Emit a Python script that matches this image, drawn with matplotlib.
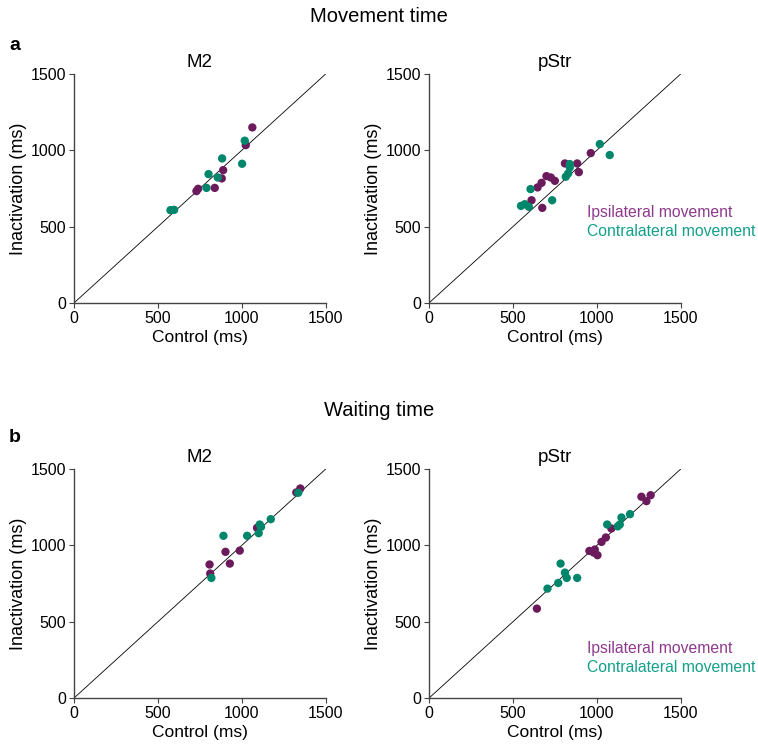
import numpy as np
import matplotlib.pyplot as plt

plt.rcParams['font.family'] = ['Liberation Sans', 'DejaVu Sans']

# Movement time, M2
mt_m2_ipsi_x = [1063, 1024, 889, 881, 839, 740, 730]
mt_m2_ipsi_y = [1150, 1034, 870, 816, 754, 748, 733]
mt_m2_contra_x = [1018, 883, 1002, 802, 857, 790, 575, 597]
mt_m2_contra_y = [1063, 947, 912, 844, 822, 754, 608, 610]

# Movement time, pStr
mt_pstr_ipsi_x = [964, 810, 883, 893, 700, 726, 750, 671, 647, 611, 675]
mt_pstr_ipsi_y = [982, 914, 914, 857, 831, 822, 800, 787, 757, 673, 623]
mt_pstr_contra_x = [1018, 1077, 839, 839, 829, 815, 605, 734, 548, 571, 595]
mt_pstr_contra_y = [1041, 969, 910, 888, 848, 827, 746, 673, 636, 647, 630]

# Waiting time, M2
wt_m2_ipsi_x = [1349, 1325, 1091, 988, 903, 929, 808, 812]
wt_m2_ipsi_y = [1373, 1347, 1115, 966, 958, 881, 875, 816]
wt_m2_contra_x = [1337, 1173, 1107, 1115, 1101, 1032, 891, 819]
wt_m2_contra_y = [1345, 1172, 1137, 1122, 1080, 1063, 1063, 787]

# Waiting time, pStr
wt_pstr_ipsi_x = [1321, 1266, 1296, 1087, 1054, 1028, 956, 988, 1004, 982, 643]
wt_pstr_ipsi_y = [1329, 1319, 1290, 1111, 1052, 1023, 964, 973, 936, 953, 586]
wt_pstr_contra_x = [1198, 1147, 1062, 1137, 1125, 784, 810, 821, 883, 770, 706]
wt_pstr_contra_y = [1205, 1183, 1137, 1137, 1125, 881, 822, 787, 787, 754, 717]

ticks = [0, 500, 1000, 1500]
ipsi_color = '#6b1b5c'
contra_color = '#00876b'
ipsi_text = '#8e3a8c'
contra_text = '#13a08a'

fig = plt.figure(figsize=(7.58, 7.49), dpi=100)

panels = [
    ([0.0976, 0.5955, 0.332, 0.3057], 'M2', mt_m2_ipsi_x, mt_m2_ipsi_y, mt_m2_contra_x, mt_m2_contra_y, None),
    ([0.566, 0.5955, 0.332, 0.3057], 'pStr', mt_pstr_ipsi_x, mt_pstr_ipsi_y, mt_pstr_contra_x, mt_pstr_contra_y, (593, 466)),
    ([0.0976, 0.068, 0.332, 0.3057], 'M2', wt_m2_ipsi_x, wt_m2_ipsi_y, wt_m2_contra_x, wt_m2_contra_y, None),
    ([0.566, 0.068, 0.332, 0.3057], 'pStr', wt_pstr_ipsi_x, wt_pstr_ipsi_y, wt_pstr_contra_x, wt_pstr_contra_y, (328, 201)),
]

for rect, title, ix, iy, cx, cy, leg in panels:
    ax = fig.add_axes(rect)
    ax.plot([0, 1500], [0, 1500], color='black', lw=0.6, zorder=1)
    ax.scatter(ix, iy, s=36, color=ipsi_color, edgecolors='none', zorder=3)
    ax.scatter(cx, cy, s=36, color=contra_color, edgecolors='none', zorder=3)
    ax.set_xlim(0, 1500)
    ax.set_ylim(0, 1500)
    ax.set_xticks(ticks)
    ax.set_yticks(ticks)
    ax.spines['top'].set_visible(False)
    ax.spines['right'].set_visible(False)
    for s in ['left', 'bottom']:
        ax.spines[s].set_color('#444444')
        ax.spines[s].set_linewidth(1.0)
    ax.tick_params(labelsize=11.5, color='#444444', length=3.5, pad=2)
    ax.set_xlabel('Control (ms)', fontsize=12.5, labelpad=3)
    ax.set_ylabel('Inactivation (ms)', fontsize=13, labelpad=3)
    ax.set_title(title, fontsize=13.5, pad=5)
    if leg is not None:
        ax.text(944, leg[0], 'Ipsilateral movement', color=ipsi_text,
                fontsize=11.3, va='center', ha='left')
        ax.text(944, leg[1], 'Contralateral movement', color=contra_text,
                fontsize=11.3, va='center', ha='left')

fig.text(0.5, 1 - 17 / 749, 'Movement time', ha='center', va='center', fontsize=14.5)
fig.text(0.5, 1 - 410 / 749, 'Waiting time', ha='center', va='center', fontsize=14.5)
fig.text(0.012, 1 - 45 / 749, 'a', ha='left', va='center', fontsize=14, fontweight='bold')
fig.text(0.012, 1 - 438 / 749, 'b', ha='left', va='center', fontsize=14, fontweight='bold')

fig.savefig('out.png', dpi=100)
